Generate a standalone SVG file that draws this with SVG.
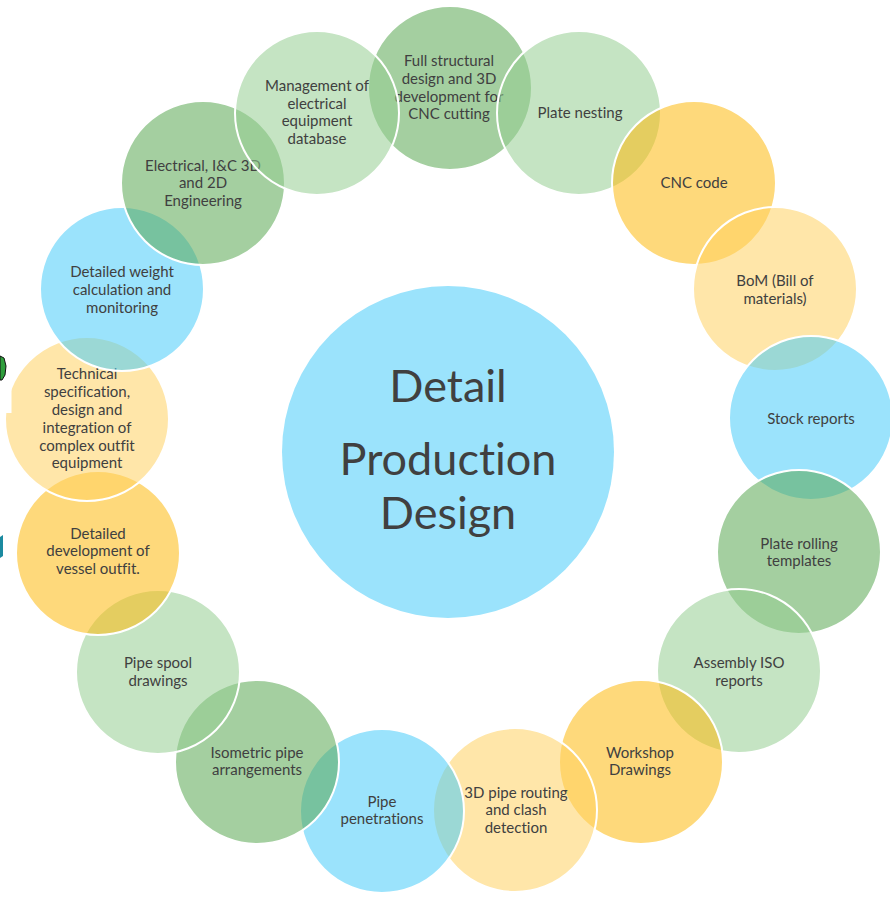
<svg xmlns="http://www.w3.org/2000/svg" width="890" height="899" viewBox="0 0 890 899">
<style>
.n circle{stroke:#ffffff;stroke-width:2;fill-opacity:0.55}
.blue circle{fill:#49CCFA}
.dg circle{fill:#5AA852}
.lg circle{fill:#96CE92}
.ye circle{fill:#FDBA0F}
.ly circle{fill:#FFD263}
text{font-variant-ligatures:none;font-feature-settings:"liga" 0,"dlig" 0,"clig" 0,"calt" 0}
.n text{font-family:Lato,"Open Sans","Liberation Sans",sans-serif;font-size:15px;fill:#404040;text-anchor:middle}
.c text{font-family:Lato,"Open Sans","Liberation Sans",sans-serif;font-size:45px;fill:#404040;text-anchor:middle}
</style>
<rect width="890" height="899" fill="#ffffff"/>
<g id="center" class="c">
<circle cx="448" cy="452" r="166" fill="#9be3fc"/>
<text x="448" y="402">Detail</text>
<text x="448" y="475">Produc<tspan>t</tspan>ion</text>
<text x="448" y="529">Design</text>
</g>
<g id="n1" class="n dg"><circle cx="450" cy="88" r="82"/>
<text x="449" y="66">Full structural</text><text x="449" y="84">design and 3D</text><text x="449" y="102">development for</text><text x="449" y="119">CNC cutting</text></g>
<g id="n2" class="n lg"><circle cx="579" cy="113" r="82"/>
<text x="580" y="118">Plate nesting</text></g>
<g id="n3" class="n ye"><circle cx="694" cy="183" r="82"/>
<text x="694" y="188">CNC code</text></g>
<g id="n4" class="n ly"><circle cx="775" cy="289" r="82"/>
<text x="775" y="286">BoM (Bill of</text><text x="775" y="304">materials)</text></g>
<g id="n5" class="n blue"><circle cx="811" cy="418" r="82"/>
<text x="811" y="424">Stock reports</text></g>
<g id="n6" class="n dg"><circle cx="799" cy="552" r="82"/>
<text x="799" y="549">Plate rolling</text><text x="799" y="566">templates</text></g>
<g id="n7" class="n lg"><circle cx="739" cy="671" r="82"/>
<text x="739" y="668">Assembly ISO</text><text x="739" y="686">reports</text></g>
<g id="n8" class="n ye"><circle cx="641" cy="762" r="82"/>
<text x="640" y="758">Workshop</text><text x="640" y="775">Drawings</text></g>
<g id="n9" class="n ly"><circle cx="515" cy="810" r="82"/>
<text x="516" y="798">3D pipe routing</text><text x="516" y="815">and clash</text><text x="516" y="833">detection</text></g>
<g id="n10" class="n blue"><circle cx="382" cy="811" r="82"/>
<text x="382" y="807">Pipe</text><text x="382" y="824">penetrations</text></g>
<g id="n11" class="n dg"><circle cx="257" cy="762" r="82"/>
<text x="257" y="758">Isometric pipe</text><text x="257" y="775">arrangements</text></g>
<g id="n12" class="n lg"><circle cx="158" cy="672" r="82"/>
<text x="158" y="668">Pipe spool</text><text x="158" y="686">drawings</text></g>
<g id="n13" class="n ye"><circle cx="98" cy="553" r="82"/>
<text x="98" y="539">Detailed</text><text x="98" y="556">development of</text><text x="98" y="574">vessel outfit.</text></g>
<g id="n14" class="n ly"><circle cx="87" cy="419" r="82"/>
<text x="87" y="379">Technical</text><text x="87" y="397">specification,</text><text x="87" y="415">design and</text><text x="87" y="433">integration of</text><text x="87" y="451">complex outfit</text><text x="87" y="468">equipment</text></g>
<g id="n15" class="n blue"><circle cx="122" cy="289" r="82"/>
<text x="122" y="277">Detailed weight</text><text x="122" y="295">calculation and</text><text x="122" y="313">monitoring</text></g>
<g id="n16" class="n dg"><circle cx="203" cy="183" r="82"/>
<text x="203" y="171">Electrical, I&amp;C 3D</text><text x="203" y="188">and 2D</text><text x="203" y="206">Engineering</text></g>
<g id="n17" class="n lg"><circle cx="317" cy="113" r="82"/>
<text x="317" y="91">Management of</text><text x="317" y="109">electrical</text><text x="317" y="126">equipment</text><text x="317" y="144">database</text></g>
<g id="connectors"></g>
<rect x="0" y="372" width="11.5" height="41" fill="#ffffff"/>
<path d="M0 356 L4 358 L6 366 L5 375 L2 380 L0 380 Z" fill="#2f9e3c" stroke="#111" stroke-width="1"/>
<path d="M0 537 L3 535 L3 556 L0 558 Z" fill="#1b8aa0"/>
</svg>
